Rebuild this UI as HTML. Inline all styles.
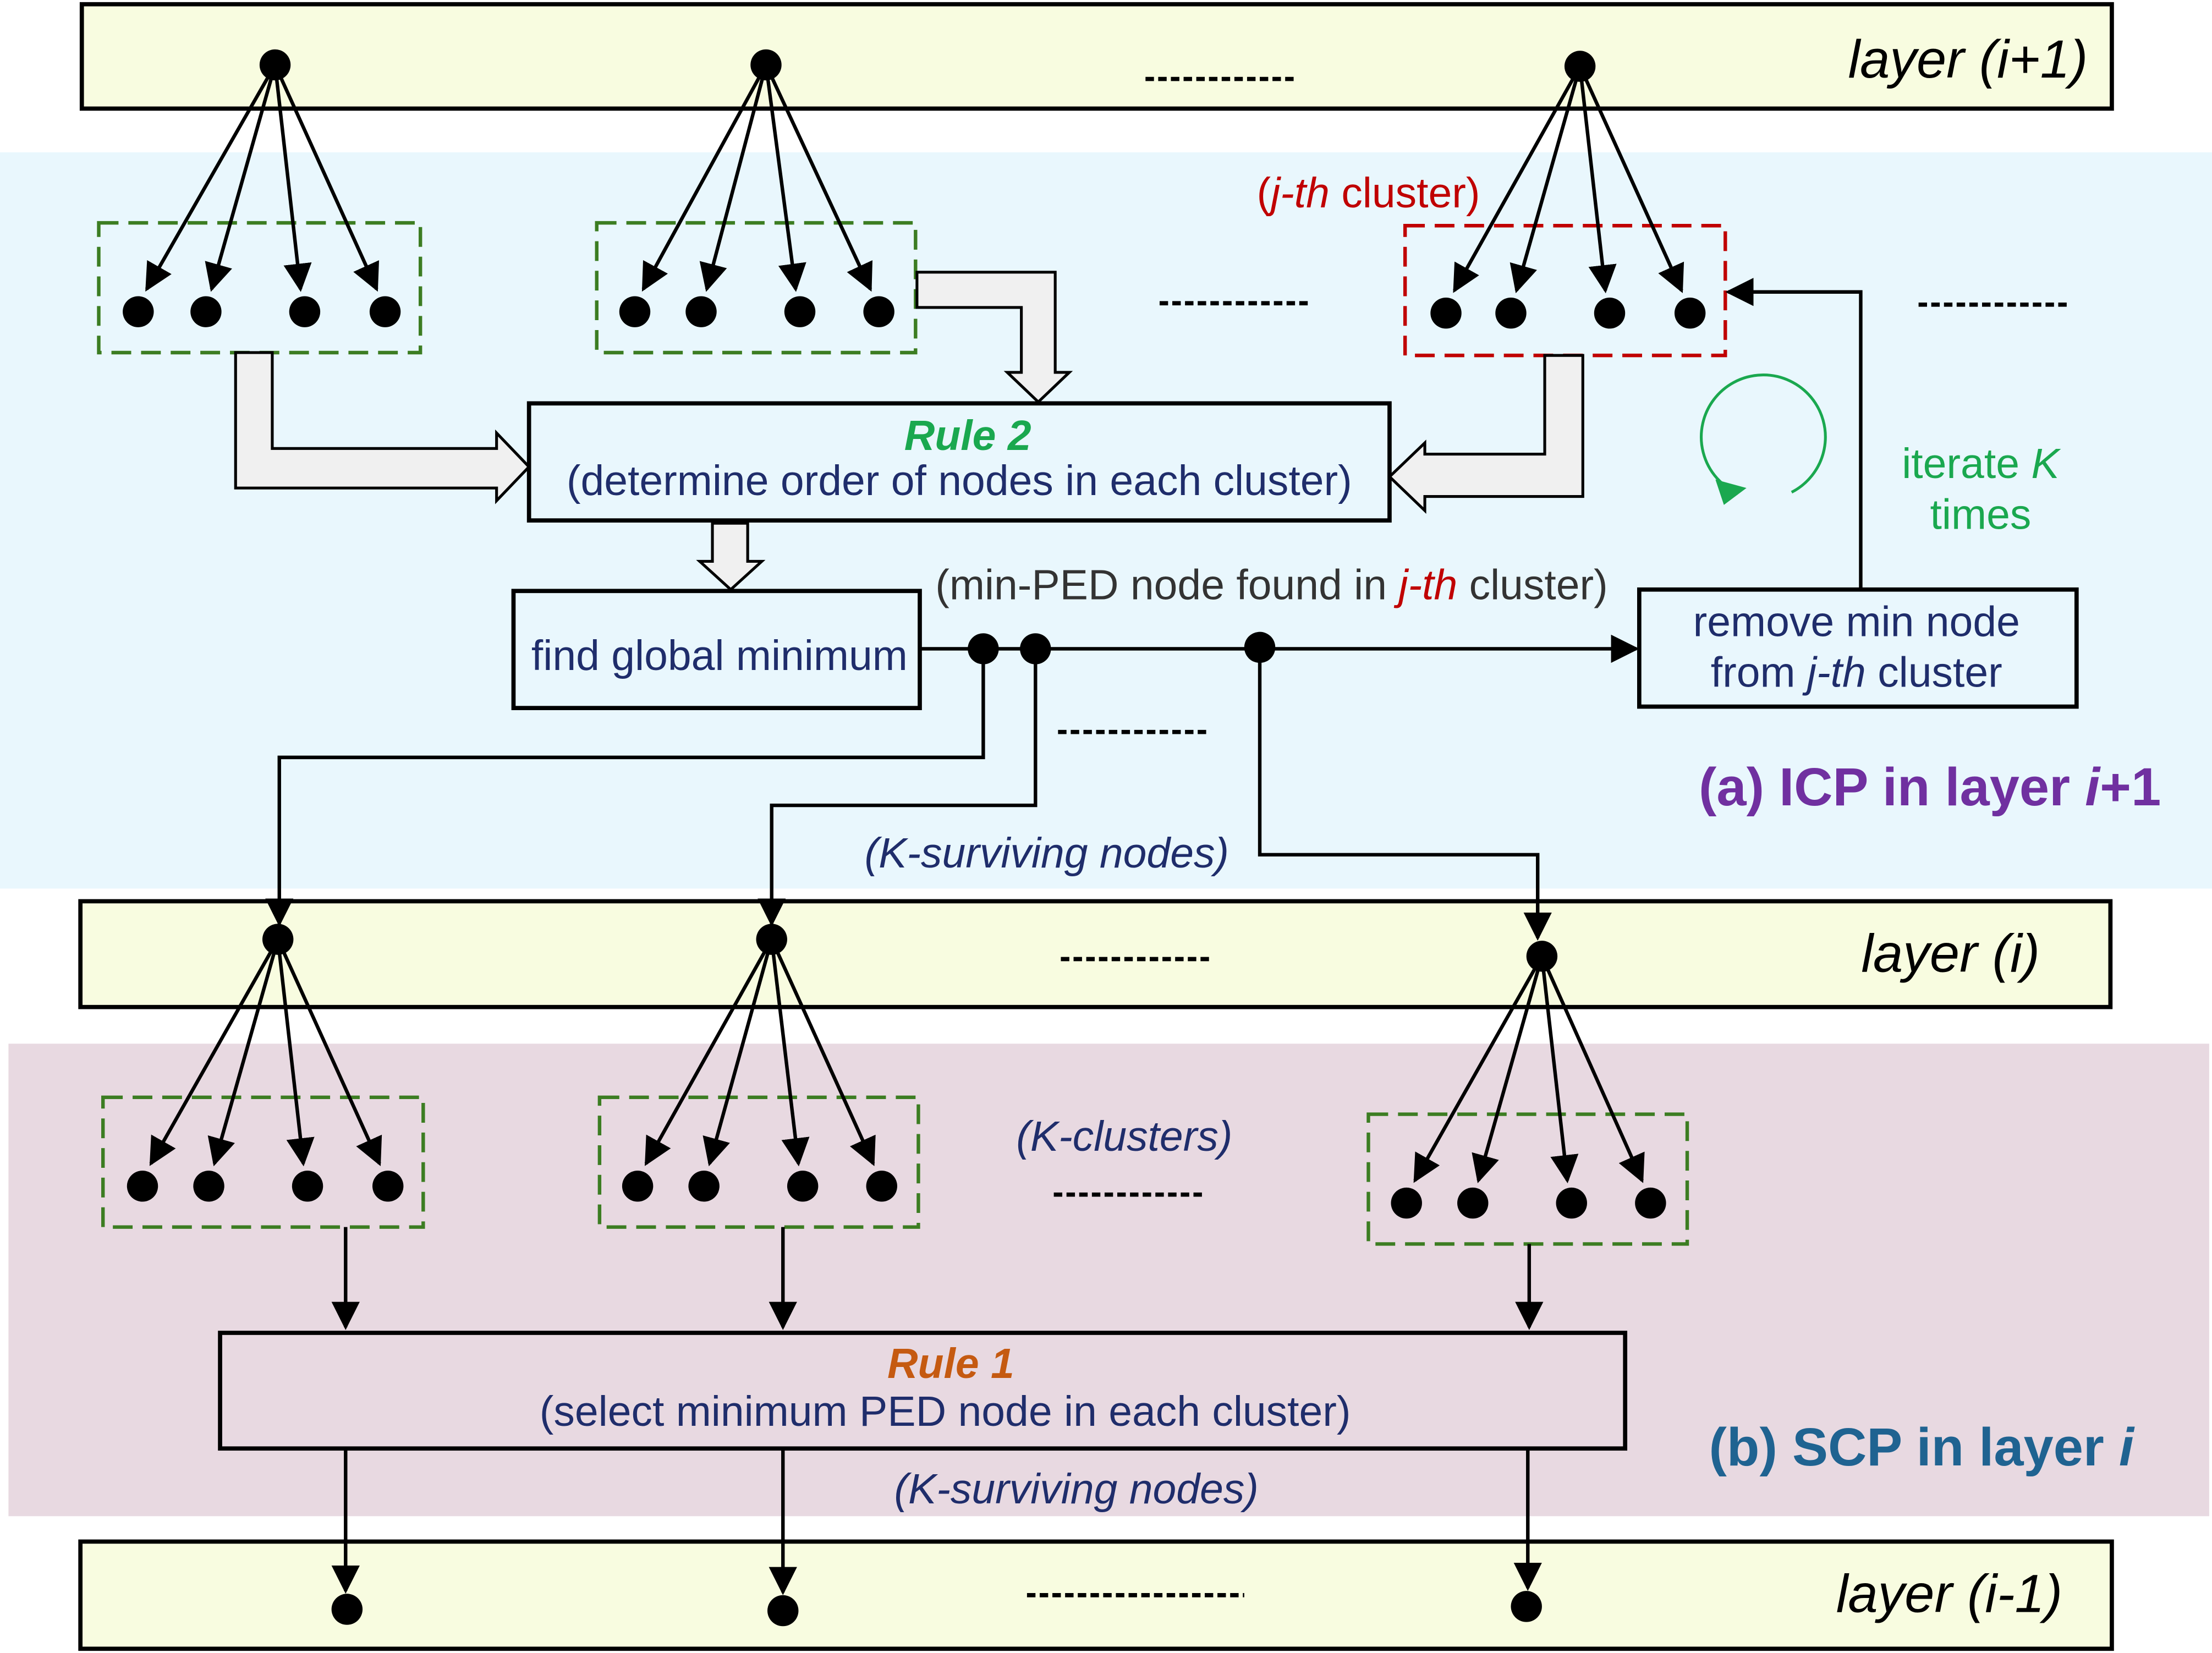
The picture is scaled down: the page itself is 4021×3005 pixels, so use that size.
<!DOCTYPE html>
<html><head><meta charset="utf-8"><style>html,body{margin:0;padding:0;background:#fff}svg{display:block}</style></head>
<body>
<svg xmlns="http://www.w3.org/2000/svg" width="4021" height="3005" viewBox="0 0 1568 1172" preserveAspectRatio="none" font-family="Liberation Sans, Arial, sans-serif">
<defs>
<marker id="ah2" viewBox="0 0 10 10" refX="9" refY="5" markerWidth="20" markerHeight="20" orient="auto" markerUnits="userSpaceOnUse"><path d="M0,0 L10,5 L0,10 z" fill="#000"/></marker>
</defs>
<rect x="0" y="108" width="1568" height="522" fill="#e9f7fd"/>
<rect x="6" y="740" width="1560" height="335" fill="#e8d9e1"/>
<g fill="#f8fce0" stroke="#000" stroke-width="3">
<rect x="58" y="3" width="1439" height="74"/>
<rect x="57" y="639" width="1439" height="75"/>
<rect x="57" y="1093" width="1440" height="76"/>
</g>
<g font-style="italic" font-size="38" text-anchor="end" fill="#000">
<text x="1480" y="55">layer (i+1)</text>
<text x="1446" y="689">layer (i)</text>
<text x="1462" y="1143">layer (i-1)</text>
</g>
<g stroke="#000" stroke-width="3" stroke-dasharray="6,3">
<line x1="812" y1="56" x2="917" y2="56"/>
<line x1="822" y1="215" x2="928" y2="215"/>
<line x1="1360" y1="216" x2="1465" y2="216"/>
<line x1="750" y1="519" x2="855" y2="519"/>
<line x1="752" y1="680" x2="858" y2="680"/>
<line x1="747" y1="847" x2="852" y2="847"/>
<line x1="728" y1="1131" x2="882" y2="1131"/>
</g>
<g fill="none" stroke-width="2.5" stroke-dasharray="14,7">
<rect x="70" y="158" width="228" height="92" stroke="#3c7d22"/>
<rect x="423" y="158" width="226" height="92" stroke="#3c7d22"/>
<rect x="996" y="160" width="227" height="92" stroke="#c00000"/>
<rect x="73" y="778" width="227" height="92" stroke="#3c7d22"/>
<rect x="425" y="778" width="226" height="92" stroke="#3c7d22"/>
<rect x="970" y="790" width="226" height="92" stroke="#3c7d22"/>
</g>
<g stroke="#000" stroke-width="2.5" marker-end="url(#ah2)">
<line x1="195" y1="46" x2="104" y2="205"/><line x1="195" y1="46" x2="150" y2="205"/><line x1="195" y1="46" x2="213" y2="205"/><line x1="195" y1="46" x2="267" y2="205"/>
<line x1="543" y1="46" x2="456" y2="205"/><line x1="543" y1="46" x2="501" y2="205"/><line x1="543" y1="46" x2="564" y2="205"/><line x1="543" y1="46" x2="617" y2="205"/>
<line x1="1120" y1="47" x2="1031" y2="206"/><line x1="1120" y1="47" x2="1075" y2="206"/><line x1="1120" y1="47" x2="1138" y2="206"/><line x1="1120" y1="47" x2="1192" y2="206"/>
<line x1="197" y1="666" x2="107" y2="825"/><line x1="197" y1="666" x2="152" y2="825"/><line x1="197" y1="666" x2="215" y2="825"/><line x1="197" y1="666" x2="269" y2="825"/>
<line x1="547" y1="666" x2="458" y2="825"/><line x1="547" y1="666" x2="503" y2="825"/><line x1="547" y1="666" x2="566" y2="825"/><line x1="547" y1="666" x2="619" y2="825"/>
<line x1="1093" y1="678" x2="1003" y2="837"/><line x1="1093" y1="678" x2="1048" y2="837"/><line x1="1093" y1="678" x2="1111" y2="837"/><line x1="1093" y1="678" x2="1164" y2="837"/>
</g>
<g fill="#f0f0f0" stroke="#000" stroke-width="2">
<polygon points="167,250 193,250 193,318 352,318 352,307 375,331 352,355 352,346 167,346"/>
<polygon points="650,193 748,193 748,264 758,264 736,285 714,264 724,264 724,218 650,218"/>
<polygon points="1095,252 1122,252 1122,352 1010,352 1010,362 985,338 1010,314 1010,322 1095,322"/>
<polygon points="505,371 530,371 530,398 540,398 518,418 496,398 505,398"/>
</g>
<g fill="none" stroke="#000" stroke-width="3">
<rect x="375" y="286" width="610" height="83"/>
<rect x="364" y="419" width="288" height="83"/>
<rect x="1162" y="418" width="310" height="83"/>
<rect x="156" y="945" width="996" height="82"/>
</g>
<text x="686" y="319" text-anchor="middle" font-size="30" font-weight="bold" font-style="italic" fill="#1aa84f">Rule 2</text>
<text x="680" y="351" text-anchor="middle" font-size="30" fill="#1f2d6b">(determine order of nodes in each cluster)</text>
<text x="510" y="475" text-anchor="middle" font-size="30" fill="#1f2d6b">find global minimum</text>
<text x="1316" y="451" text-anchor="middle" font-size="30" fill="#1f2d6b">remove min node</text>
<text x="1316" y="487" text-anchor="middle" font-size="30" fill="#1f2d6b">from <tspan font-style="italic">j-th</tspan> cluster</text>
<text x="663" y="425" font-size="30" fill="#333">(min-PED node found in <tspan fill="#c00000" font-style="italic">j-th</tspan> cluster)</text>
<text x="970" y="147" text-anchor="middle" font-size="30" fill="#c00000">(<tspan font-style="italic">j-th</tspan> cluster)</text>
<text x="1404" y="339" text-anchor="middle" font-size="30" fill="#1aa84f">iterate <tspan font-style="italic">K</tspan></text>
<text x="1404" y="375" text-anchor="middle" font-size="30" fill="#1aa84f">times</text>
<text x="742" y="615" text-anchor="middle" font-size="30" font-style="italic" fill="#1f2d6b">(K-surviving nodes)</text>
<text x="797" y="816" text-anchor="middle" font-size="30" font-style="italic" fill="#1f2d6b">(K-clusters)</text>
<text x="763" y="1066" text-anchor="middle" font-size="30" font-style="italic" fill="#1f2d6b">(K-surviving nodes)</text>
<text x="1368" y="571" text-anchor="middle" font-size="38" font-weight="bold" fill="#7030a0">(a) ICP in layer <tspan font-style="italic">i</tspan>+1</text>
<text x="1362" y="1039" text-anchor="middle" font-size="38" font-weight="bold" fill="#1f6391">(b) SCP in layer <tspan font-style="italic">i</tspan></text>
<text x="674" y="977" text-anchor="middle" font-size="30" font-weight="bold" font-style="italic" fill="#c55a11">Rule 1</text>
<text x="670" y="1011" text-anchor="middle" font-size="30" fill="#1f2d6b">(select minimum PED node in each cluster)</text>
<g fill="none" stroke="#000" stroke-width="2.5" marker-end="url(#ah2)">
<line x1="652" y1="460" x2="1160" y2="460"/>
<polyline points="1319,418 1319,207 1225,207"/>
<polyline points="697,460 697,537 198,537 198,655"/>
<polyline points="734,460 734,571 547,571 547,655"/>
<polyline points="893,460 893,606 1090,606 1090,665"/>
<line x1="245" y1="870" x2="245" y2="941"/>
<line x1="555" y1="870" x2="555" y2="941"/>
<line x1="1084" y1="882" x2="1084" y2="941"/>
<line x1="245" y1="1027" x2="245" y2="1128"/>
<line x1="555" y1="1027" x2="555" y2="1129"/>
<line x1="1083" y1="1027" x2="1083" y2="1126"/>
</g>
<path d="M1232,350 A44,44 0 1 1 1270,349" fill="none" stroke="#1aa84f" stroke-width="2"/>
<polygon points="1216,340 1238,346 1222,358" fill="#1aa84f"/>
<g fill="#000">
<circle cx="195" cy="46" r="11"/><circle cx="543" cy="46" r="11"/><circle cx="1120" cy="47" r="11"/>
<circle cx="98" cy="221" r="11"/><circle cx="146" cy="221" r="11"/><circle cx="216" cy="221" r="11"/><circle cx="273" cy="221" r="11"/>
<circle cx="450" cy="221" r="11"/><circle cx="497" cy="221" r="11"/><circle cx="567" cy="221" r="11"/><circle cx="623" cy="221" r="11"/>
<circle cx="1025" cy="222" r="11"/><circle cx="1071" cy="222" r="11"/><circle cx="1141" cy="222" r="11"/><circle cx="1198" cy="222" r="11"/>
<circle cx="697" cy="460" r="11"/><circle cx="734" cy="460" r="11"/><circle cx="893" cy="459" r="11"/>
<circle cx="197" cy="666" r="11"/><circle cx="547" cy="666" r="11"/><circle cx="1093" cy="678" r="11"/>
<circle cx="101" cy="841" r="11"/><circle cx="148" cy="841" r="11"/><circle cx="218" cy="841" r="11"/><circle cx="275" cy="841" r="11"/>
<circle cx="452" cy="841" r="11"/><circle cx="499" cy="841" r="11"/><circle cx="569" cy="841" r="11"/><circle cx="625" cy="841" r="11"/>
<circle cx="997" cy="853" r="11"/><circle cx="1044" cy="853" r="11"/><circle cx="1114" cy="853" r="11"/><circle cx="1170" cy="853" r="11"/>
<circle cx="246" cy="1141" r="11"/><circle cx="555" cy="1142" r="11"/><circle cx="1082" cy="1139" r="11"/>
</g>
</svg>
</body></html>
